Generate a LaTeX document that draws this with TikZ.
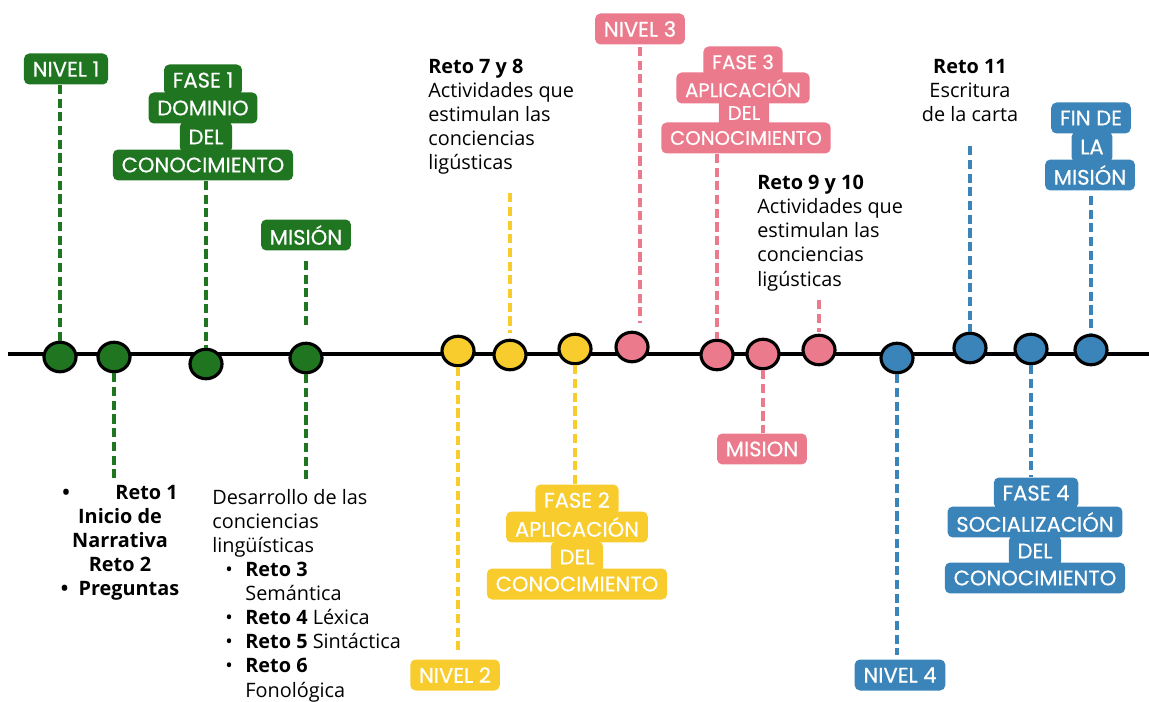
\documentclass[tikz,border=0pt]{standalone}
\usepackage{fontspec}
\setmainfont{Open Sans}
\newfontfamily\rotulo[FakeBold=0.5]{Poppins}
\usepackage{tikz}
\usetikzlibrary{shapes.geometric}

\definecolor{verde}{RGB}{31,117,32}
\definecolor{amarillo}{RGB}{247,204,44}
\definecolor{rosa}{RGB}{234,122,140}
\definecolor{azul}{RGB}{58,132,185}

\newcommand{\vineta}{\hspace*{7.4pt}\makebox[11.4pt][l]{\textbullet}}
\newcommand{\sangria}{\hspace*{18.8pt}}

\begin{document}
\begin{tikzpicture}[x=0.02cm,y=-0.02cm,
  etiqueta/.style={rounded corners=3pt, inner xsep=5pt, inner ysep=0pt,
    minimum height=0.62cm, text=white, font=\rotulo\fontsize{12}{13}\selectfont},
  punto/.style={ellipse, draw=black, line width=1.8pt, minimum width=0.64cm,
    minimum height=0.59cm, inner sep=0pt},
  guia/.style={line width=2.4pt, dash pattern=on 5.2pt off 2.6pt},
  texto/.style={inner sep=0pt, font=\fontsize{11.3}{13.7}\selectfont, align=left}]
\useasboundingbox (0,0) rectangle (1149,702);

% linea de tiempo
\coordinate (ini) at (8,354);
\coordinate (fin) at (1149,354);
\draw[line width=2pt] (ini) -- (fin);

% puntos
\node[punto, fill=verde] (g1) at (60,357) {};
\node[punto, fill=verde] (g2) at (114,357) {};
\node[punto, fill=verde] (g3) at (206,364) {};
\node[punto, fill=verde] (g4) at (306,358) {};
\node[punto, fill=amarillo] (y1) at (458,351) {};
\node[punto, fill=amarillo] (y2) at (510,355) {};
\node[punto, fill=amarillo] (y3) at (575,349) {};
\node[punto, fill=rosa] (p1) at (632,347) {};
\node[punto, fill=rosa] (p2) at (717,355) {};
\node[punto, fill=rosa] (p3) at (763,354) {};
\node[punto, fill=rosa] (p4) at (819,350) {};
\node[punto, fill=azul] (b1) at (897,358) {};
\node[punto, fill=azul] (b2) at (970,348) {};
\node[punto, fill=azul] (b3) at (1031,349) {};
\node[punto, fill=azul] (b4) at (1091,350) {};

% etiquetas verdes
\node[etiqueta, fill=verde] (n1) at (66,69) {NIVEL 1};
\node[etiqueta, fill=verde] (f1d) at (203,165) {CONOCIMIENTO};
\node[etiqueta, fill=verde] (f1c) at (206,137) {DEL};
\node[etiqueta, fill=verde] (f1b) at (203,108) {DOMINIO};
\node[etiqueta, fill=verde] (f1a) at (203,80) {FASE 1};
\node[etiqueta, fill=verde] (m1) at (306,235) {MISIÓN};

% etiquetas amarillas
\node[etiqueta, fill=amarillo] (n2) at (455,675) {NIVEL 2};
\node[etiqueta, fill=amarillo] (f2d) at (577,584) {CONOCIMIENTO};
\node[etiqueta, fill=amarillo] (f2c) at (577,557) {DEL};
\node[etiqueta, fill=amarillo] (f2b) at (577,527) {APLICACIÓN};
\node[etiqueta, fill=amarillo] (f2a) at (577,500) {FASE 2};

% etiquetas rosas
\node[etiqueta, fill=rosa] (n3) at (640,29) {NIVEL 3};
\node[etiqueta, fill=rosa, font=\rotulo\fontsize{11.2}{12}\selectfont] (f3d) at (746,138) {CONOCIMIENTO};
\node[etiqueta, fill=rosa, font=\rotulo\fontsize{11.2}{12}\selectfont] (f3c) at (744,113) {DEL};
\node[etiqueta, fill=rosa, font=\rotulo\fontsize{11.2}{12}\selectfont] (f3b) at (743,88) {APLICACIÓN};
\node[etiqueta, fill=rosa, font=\rotulo\fontsize{11.2}{12}\selectfont] (f3a) at (743,62) {FASE 3};
\node[etiqueta, fill=rosa] (m2) at (762,449) {MISION};

% etiquetas azules
\node[etiqueta, fill=azul] (n4) at (900,675) {NIVEL 4};
\node[etiqueta, fill=azul] (f4d) at (1035,578) {CONOCIMIENTO};
\node[etiqueta, fill=azul] (f4c) at (1035,551) {DEL};
\node[etiqueta, fill=azul] (f4b) at (1035,522) {SOCIALIZACIÓN};
\node[etiqueta, fill=azul] (f4a) at (1036,493) {FASE 4};
\node[etiqueta, fill=azul] (fc) at (1090,175) {MISIÓN};
\node[etiqueta, fill=azul] (fb) at (1092,147) {LA};
\node[etiqueta, fill=azul] (fa) at (1091,118) {FIN DE};

% textos
\node[texto, align=center, anchor=north, font=\bfseries\fontsize{11.3}{13.7}\selectfont] (r12) at (120,485)
  {\textbullet\hspace{2.3em}Reto 1\\Inicio de\\Narrativa\\Reto 2\\\textbullet\ \ Preguntas};
\node[texto, anchor=north west] (des) at (212,489)
  {Desarrollo de las\\conciencias\\lingüísticas\\
   \vineta\textbf{Reto 3}\\\sangria Semántica\\
   \vineta\textbf{Reto 4} Léxica\\
   \vineta\textbf{Reto 5} Sintáctica\\
   \vineta\textbf{Reto 6}\\\sangria Fonológica};
\node[texto, anchor=north west] (r78) at (428,59)
  {\textbf{Reto 7 y 8}\\Actividades que\\estimulan las\\conciencias\\ligústicas};
\node[texto, anchor=north west] (r910) at (757,175)
  {\textbf{Reto 9 y 10}\\Actividades que\\estimulan las\\conciencias\\ligústicas};
\node[texto, align=center, anchor=north] (r11) at (970,59)
  {\textbf{Reto 11}\\Escritura\\de la carta};

% guias
\draw[guia, verde] (n1.south -| g1) -- (g1.north);
\draw[guia, verde, shorten >=0.08cm] (g2.south) -- (g2.south |- r12.north);
\draw[guia, verde] (f1d.south -| g3) -- (g3.north);
\draw[guia, verde, shorten <=0.2cm, shorten >=0.26cm] (m1.south) -- (m1.south |- g4.north);
\draw[guia, verde, shorten >=0.2cm] (g4.south) -- (g4.south |- des.north);
\draw[guia, amarillo, shorten >=0.18cm] (y1.south) -- (y1.south |- n2.north);
\draw[guia, amarillo, shorten <=0.36cm, shorten >=0.12cm] (r78.south -| y2) -- (y2.north);
\draw[guia, amarillo] (y3.south) -- (y3.south |- f2a.north);
\draw[guia, rosa, shorten <=0.04cm, shorten >=0.16cm] (n3.south) -- (n3.south |- p1.north);
\draw[guia, rosa] (f3d.south -| p2) -- (p2.north);
\draw[guia, rosa] (p3.south) -- (p3.south |- m2.north);
\draw[guia, rosa, shorten <=0.18cm, shorten >=0.04cm] (r910.south -| p4) -- (p4.north);
\draw[guia, azul, shorten >=0.08cm] (b1.south) -- (b1.south |- n4.north);
\draw[guia, azul, shorten <=0.48cm] (r11.south -| b2) -- (b2.north);
\draw[guia, azul] (b3.south) -- (b3.south |- f4a.north);
\draw[guia, azul, shorten <=0.1cm] (fc.south -| b4) -- (b4.north);
\end{tikzpicture}
\end{document}
